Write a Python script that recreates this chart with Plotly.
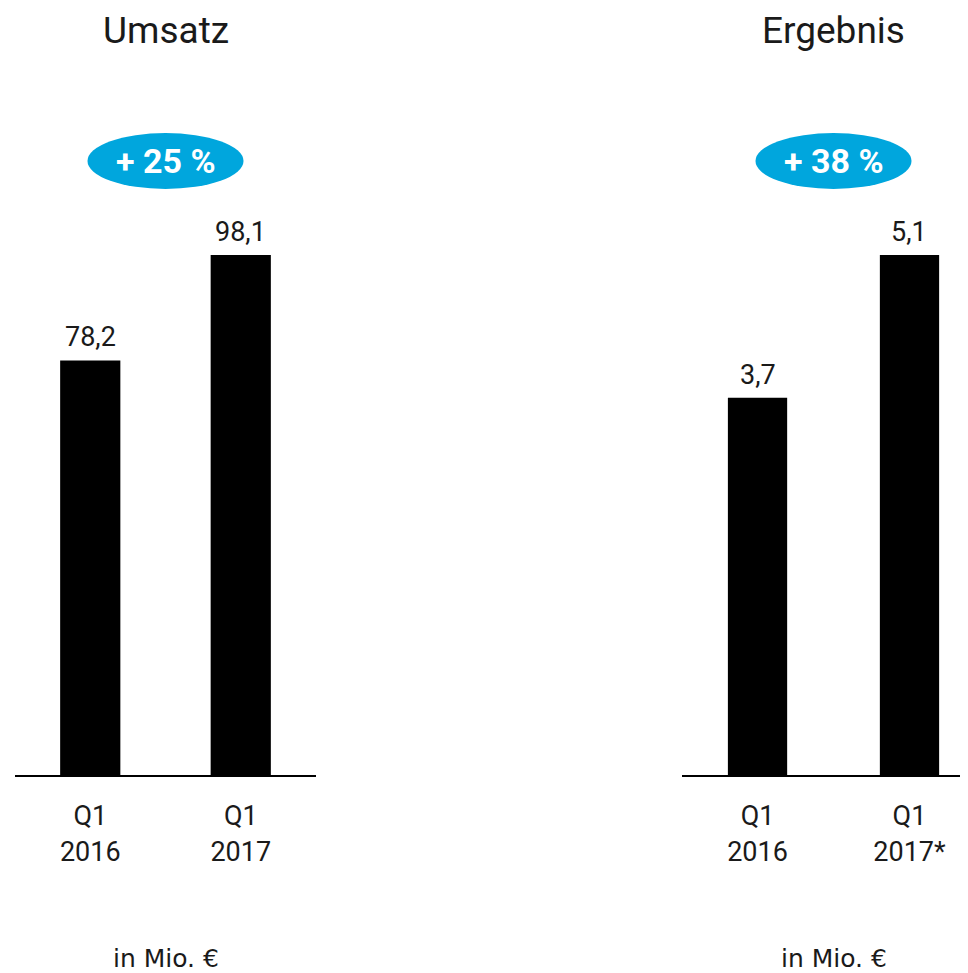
import plotly.graph_objects as go

# page body has an 8px margin, so the figure sits at (8, 8)
OFF = 8
W, H = 968 - OFF, 973 - OFF

categories = ["Q1<br>2016", "Q1<br>2017"]
categories_right = ["Q1<br>2016", "Q1<br>2017*"]
umsatz = [78.2, 98.1]
ergebnis = [3.7, 5.1]
titles = ["Umsatz", "Ergebnis"]
growth = ["+ 25 %", "+ 38 %"]
unit_label = "in Mio. €"

FONT = "Roboto"
BLUE = "#00A6DD"
TXT = "#1a1a1a"

def fmt(v):
    return f"{v:.1f}".replace(".", ",")

fig = go.Figure()
fig.add_trace(go.Bar(x=[0, 1], y=umsatz, width=0.4, marker=dict(color="black", line_width=0),
                     xaxis="x", yaxis="y", hoverinfo="skip"))
fig.add_trace(go.Bar(x=[0, 1], y=ergebnis, width=0.39, marker=dict(color="black", line_width=0),
                     xaxis="x2", yaxis="y2", hoverinfo="skip"))

px = lambda p: (p - OFF) / W
py = lambda p: 1 - (p - OFF) / H

ydom = [py(775), py(255)]
tickfont = dict(size=27, family=FONT, color=TXT)
fig.update_layout(
    width=W, height=H, margin=dict(l=0, r=0, t=0, b=0),
    paper_bgcolor="white", plot_bgcolor="white", showlegend=False,
    font=dict(family=FONT, color=TXT),
    xaxis=dict(domain=[px(15), px(316)], range=[-0.5, 1.5], tickvals=[0, 1], ticktext=categories,
               showgrid=False, zeroline=False, showline=True, linecolor="black", linewidth=2,
               ticks="outside", ticklen=0, ticklabelstandoff=16, tickfont=tickfont,
               fixedrange=True),
    yaxis=dict(domain=ydom, range=[0, max(umsatz)], visible=False, fixedrange=True),
    xaxis2=dict(domain=[px(682), 1], range=[-0.497, 1.385], tickvals=[0, 1], ticktext=categories_right,
                showgrid=False, zeroline=False, showline=True, linecolor="black", linewidth=2,
                ticks="outside", ticklen=0, ticklabelstandoff=16, tickfont=tickfont,
                fixedrange=True, anchor="y2"),
    yaxis2=dict(domain=ydom, range=[0, max(ergebnis)], visible=False, fixedrange=True, anchor="x2"),
)

annotations = []
for xr, vals in (("x", umsatz), ("x2", ergebnis)):
    yr = "y" if xr == "x" else "y2"
    for i, v in enumerate(vals):
        annotations.append(dict(x=i, y=v, xref=xr, yref=yr, text=fmt(v), showarrow=False,
                                yanchor="bottom", yshift=5, font=dict(size=27, family=FONT, color=TXT)))

centers = [165.5, 833.5]
for c, t, g in zip(centers, titles, growth):
    annotations.append(dict(x=px(c), y=1, xref="paper", yref="paper", text=t, showarrow=False,
                            xanchor="center", yanchor="top", borderpad=0,
                            font=dict(size=37, family=FONT, color=TXT)))
    annotations.append(dict(x=px(c), y=py(161), xref="paper", yref="paper", text=f"<b>{g}</b>", showarrow=False,
                            xanchor="center", yanchor="middle", font=dict(size=34, family=FONT, color="white")))
    annotations.append(dict(x=px(c), y=py(958), xref="paper", yref="paper", text=unit_label, showarrow=False,
                            xanchor="center", yanchor="middle", font=dict(size=25, family="DejaVu Sans", color=TXT)))

shapes = []
for c in centers:
    shapes.append(dict(type="circle", xref="paper", yref="paper", x0=px(c - 78), x1=px(c + 78),
                       y0=py(189), y1=py(133), fillcolor=BLUE, line=dict(width=0), layer="below"))

fig.update_layout(annotations=annotations, shapes=shapes)
fig.write_html("out.html")
